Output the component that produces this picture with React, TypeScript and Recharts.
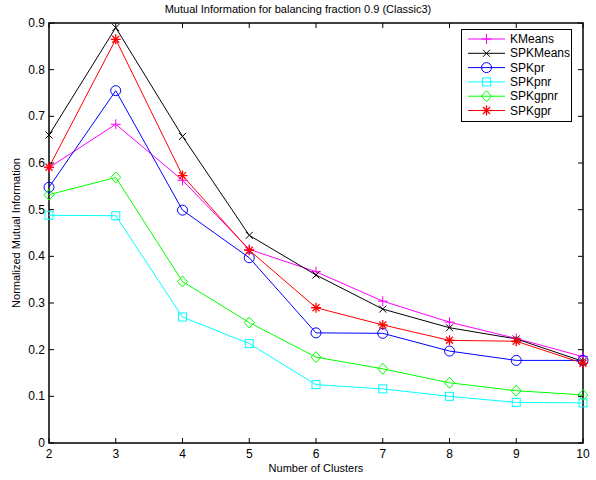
import { LineChart, Line, XAxis, YAxis, ReferenceArea } from 'recharts'

const clusters = [2, 3, 4, 5, 6, 7, 8, 9, 10]
const kmeans = [0.59, 0.683, 0.563, 0.415, 0.367, 0.304, 0.259, 0.224, 0.185]
const spkmeans = [0.66, 0.89, 0.657, 0.445, 0.36, 0.287, 0.247, 0.223, 0.175]
const spkpr = [0.548, 0.755, 0.499, 0.397, 0.236, 0.235, 0.197, 0.177, 0.177]
const spkpnr = [0.488, 0.487, 0.27, 0.213, 0.125, 0.116, 0.1, 0.087, 0.086]
const spkgpnr = [0.532, 0.569, 0.346, 0.258, 0.184, 0.159, 0.129, 0.112, 0.103]
const spkgpr = [0.591, 0.865, 0.573, 0.413, 0.29, 0.253, 0.22, 0.218, 0.171]
const yTicks = [0, 0.1, 0.2, 0.3, 0.4, 0.5, 0.6, 0.7, 0.8, 0.9]

const W = 596
const H = 480
const PLOT_LEFT = 49
const PLOT_RIGHT = 583
const PLOT_TOP = 23
const PLOT_BOTTOM = 443
const TICK = 5
const FONT = '"Liberation Sans", Arial, Helvetica, sans-serif'

type MarkerKind = 'plus' | 'cross' | 'circle' | 'square' | 'diamond' | 'star'

const SERIES: { key: string; values: number[]; color: string; marker: MarkerKind }[] = [
  { key: 'KMeans', values: kmeans, color: '#ff00ff', marker: 'plus' },
  { key: 'SPKMeans', values: spkmeans, color: '#000000', marker: 'cross' },
  { key: 'SPKpr', values: spkpr, color: '#0000ff', marker: 'circle' },
  { key: 'SPKpnr', values: spkpnr, color: '#00ffff', marker: 'square' },
  { key: 'SPKgpnr', values: spkgpnr, color: '#00ff00', marker: 'diamond' },
  { key: 'SPKgpr', values: spkgpr, color: '#ff0000', marker: 'star' },
]

const data = clusters.map((k, i) => {
  const row: Record<string, number> = { k }
  SERIES.forEach((s) => {
    row[s.key] = s.values[i]
  })
  return row
})

function Marker({ kind, cx, cy, color }: { kind: MarkerKind; cx: number; cy: number; color: string }) {
  const p = { stroke: color, strokeWidth: 1, fill: 'none' }
  switch (kind) {
    case 'plus':
      return (
        <g {...p}>
          <line x1={cx - 5} x2={cx + 5} y1={cy} y2={cy} />
          <line x1={cx} x2={cx} y1={cy - 5} y2={cy + 5} />
        </g>
      )
    case 'cross':
      return (
        <g {...p}>
          <line x1={cx - 3.5} x2={cx + 3.5} y1={cy - 3.5} y2={cy + 3.5} />
          <line x1={cx - 3.5} x2={cx + 3.5} y1={cy + 3.5} y2={cy - 3.5} />
        </g>
      )
    case 'circle':
      return <circle cx={cx} cy={cy} r={5} {...p} />
    case 'square':
      return <rect x={cx - 4} y={cy - 4} width={8} height={8} {...p} />
    case 'diamond':
      return <polygon points={`${cx},${cy - 5.5} ${cx + 5},${cy} ${cx},${cy + 5.5} ${cx - 5},${cy}`} {...p} />
    case 'star':
      return (
        <g {...p} strokeWidth={1.3}>
          <line x1={cx - 5} x2={cx + 5} y1={cy} y2={cy} />
          <line x1={cx} x2={cx} y1={cy - 5} y2={cy + 5} />
          <line x1={cx - 3.5} x2={cx + 3.5} y1={cy - 3.5} y2={cy + 3.5} />
          <line x1={cx - 3.5} x2={cx + 3.5} y1={cy + 3.5} y2={cy - 3.5} />
        </g>
      )
  }
}

// bottom labels plus inward tick marks on the bottom and top edges
function XTick(props: any) {
  const { x, payload } = props
  return (
    <g>
      <line x1={x} x2={x} y1={PLOT_BOTTOM} y2={PLOT_BOTTOM - TICK} stroke="#000" />
      <line x1={x} x2={x} y1={PLOT_TOP} y2={PLOT_TOP + TICK} stroke="#000" />
      <text x={x} y={PLOT_BOTTOM + 15} textAnchor="middle" fontSize={12} fontFamily={FONT} fill="#000">
        {payload.value}
      </text>
    </g>
  )
}

// left labels plus inward tick marks on the left and right edges
function YTick(props: any) {
  const { y, payload } = props
  return (
    <g>
      <line x1={PLOT_LEFT} x2={PLOT_LEFT + TICK} y1={y} y2={y} stroke="#000" />
      <line x1={PLOT_RIGHT} x2={PLOT_RIGHT - TICK} y1={y} y2={y} stroke="#000" />
      <text x={PLOT_LEFT - 4} y={y + 4} textAnchor="end" fontSize={12} fontFamily={FONT} fill="#000">
        {payload.value === 0 ? '0' : payload.value.toFixed(1)}
      </text>
    </g>
  )
}

function LegendBox() {
  const rowH = 14.3
  return (
    <svg width={111} height={93} style={{ display: 'block' }}>
      <rect x={0.5} y={0.5} width={110} height={92} fill="#fff" stroke="#000" />
      {SERIES.map((s, i) => {
        const cy = 10 + i * rowH
        return (
          <g key={s.key}>
            <line x1={7} x2={44} y1={cy} y2={cy} stroke={s.color} />
            <Marker kind={s.marker} cx={25.5} cy={cy} color={s.color} />
            <text x={49} y={cy + 4} fontSize={12} fontFamily={FONT} fill="#000">
              {s.key}
            </text>
          </g>
        )
      })}
    </svg>
  )
}

export default function App() {
  return (
    <div style={{ position: 'absolute', left: 0, top: 0, width: W, height: H, background: '#fff' }}>
      <div
        style={{
          position: 'absolute',
          top: 3,
          left: 0,
          width: W,
          textAlign: 'center',
          fontFamily: FONT,
          fontSize: 11,
          color: '#000',
        }}
      >
        Mutual Information for balancing fraction 0.9 (Classic3)
      </div>
      <LineChart
        width={W}
        height={H}
        data={data}
        margin={{ top: PLOT_TOP, right: W - PLOT_RIGHT, bottom: 0, left: 0 }}
      >
        <ReferenceArea x1={2} x2={10} y1={0} y2={0.9} fill="none" stroke="#000" strokeWidth={1.5} />
        <XAxis
          dataKey="k"
          type="number"
          domain={[2, 10]}
          ticks={clusters}
          height={H - PLOT_BOTTOM}
          axisLine={false}
          tickLine={false}
          tick={<XTick />}
          interval={0}
          label={{
            content: () => (
              <text x={(PLOT_LEFT + PLOT_RIGHT) / 2} y={472} textAnchor="middle" fontSize={11} fontFamily={FONT} fill="#000">
                Number of Clusters
              </text>
            ),
          }}
        />
        <YAxis
          type="number"
          domain={[0, 0.9]}
          ticks={yTicks}
          width={PLOT_LEFT}
          axisLine={false}
          tickLine={false}
          tick={<YTick />}
          interval={0}
          label={{
            content: () => (
              <text
                transform={`translate(20, ${(PLOT_TOP + PLOT_BOTTOM) / 2}) rotate(-90)`}
                textAnchor="middle"
                fontSize={11}
                fontFamily={FONT}
                fill="#000"
              >
                Normalized Mutual Information
              </text>
            ),
          }}
        />
        {SERIES.map((s) => (
          <Line
            key={s.key}
            type="linear"
            dataKey={s.key}
            stroke={s.color}
            strokeWidth={1}
            isAnimationActive={false}
            dot={(p: any) => <Marker key={`${s.key}-${p.index}`} kind={s.marker} cx={p.cx} cy={p.cy} color={s.color} />}
            activeDot={false}
          />
        ))}
      </LineChart>
      <div style={{ position: 'absolute', left: 461, top: 29 }}>
        <LegendBox />
      </div>
    </div>
  )
}
